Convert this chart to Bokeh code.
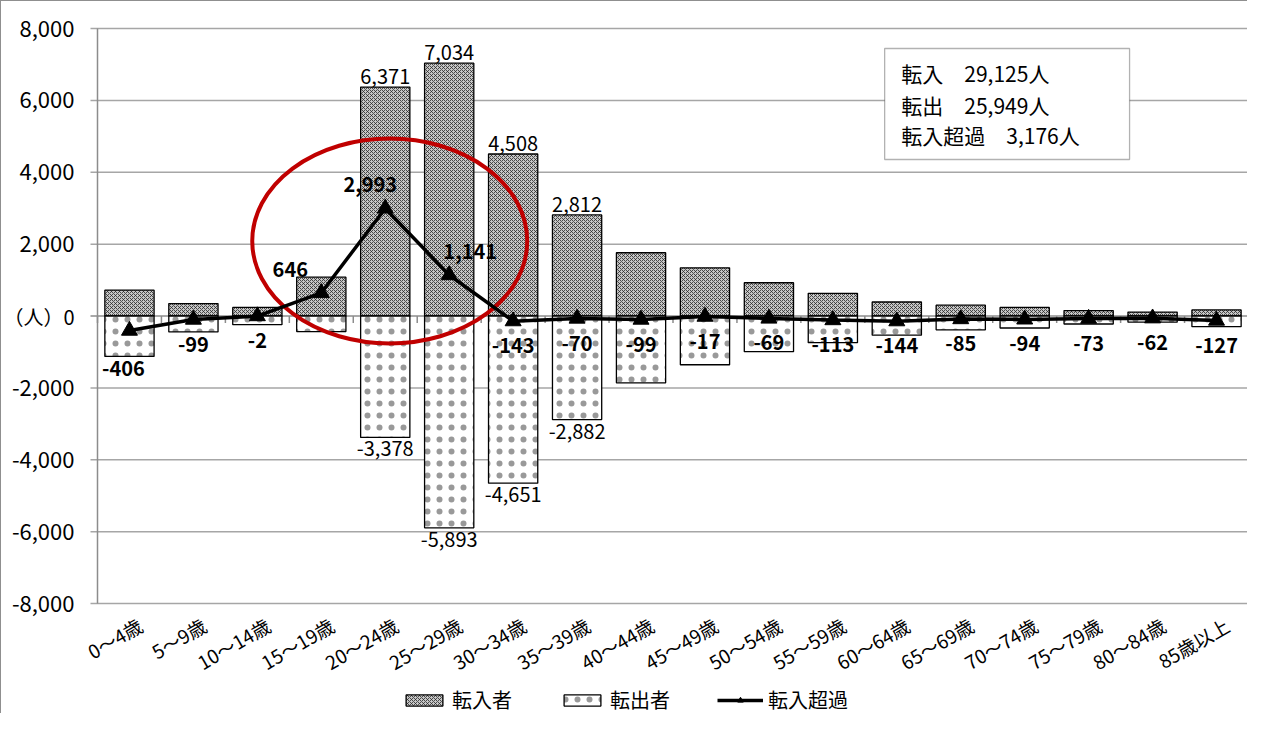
import math
from bokeh.plotting import figure
from bokeh.models import (ColumnDataSource, Range1d, Legend, LegendItem, BoxAnnotation, Label)
from bokeh.core.properties import value
from bokeh.embed import file_html
from bokeh.resources import INLINE

FONT = "Noto Sans CJK JP"

# ---------------- data ----------------
categories = ["0～4歳", "5～9歳", "10～14歳", "15～19歳", "20～24歳", "25～29歳",
              "30～34歳", "35～39歳", "40～44歳", "45～49歳", "50～54歳", "55～59歳",
              "60～64歳", "65～69歳", "70～74歳", "75～79歳", "80～84歳", "85歳以上"]
in_movers = [720, 345, 240, 1080, 6371, 7034, 4508, 2812, 1760, 1340, 925, 630,
             390, 300, 240, 150, 110, 170]
out_movers = [1126, 444, 242, 434, 3378, 5893, 4651, 2882, 1859, 1357, 994, 743,
              534, 385, 334, 223, 172, 297]
net_movers = [-406, -99, -2, 646, 2993, 1141, -143, -70, -99, -17, -69, -113,
              -144, -85, -94, -73, -62, -127]
y_ticks = [-8000, -6000, -4000, -2000, 0, 2000, 4000, 6000, 8000]
y_zero_label = "（人）0"
summary_lines = ["転入　29,125人", "転出　25,949人", "転入超過　3,176人"]
legend_labels = ["転入者", "転出者", "転入超過"]

# label nudges (style only, pixels)
net_dx = [-6, 0, 0, -31, -15, 21, 0, 0, 0, 0, 0, 0, 0, 0, 0, 0, 0, 0]
net_dy = [13, 0, 0, 0, 0, 0, 0, 0, 0, 0, 0, 0, 0, 0, 0, 0, 0, 0]

GRID = "#a6a6a6"
AXIS = "#8c8c8c"

# ---------------- layout (pixels inside the figure) ----------------
FIG_W, FIG_H = 1247, 713
PLOT_L, PLOT_R = 96, FIG_W          # value axis x position and right end of plot area
PLOT_T, PLOT_B = 27, 602            # pixel rows of the top and bottom y tick
n = len(categories)
px_x = (PLOT_R - PLOT_L) / n
px_y = (PLOT_B - PLOT_T) / (y_ticks[-1] - y_ticks[0])
x_start = -PLOT_L / px_x
y_end = y_ticks[-1] + PLOT_T / px_y
y_start = y_ticks[0] - (FIG_H - PLOT_B) / px_y

p = figure(x_range=Range1d(x_start, n), y_range=Range1d(y_start, y_end),
           x_axis_location=None, y_axis_location=None,
           width=FIG_W, height=FIG_H, output_backend="svg", toolbar_location=None,
           min_border=0)
p.styles = {"border-left": "1px solid #8f8f8f", "border-top": "1px solid #8f8f8f"}
p.outline_line_color = None
p.grid.visible = False
p.background_fill_color = "white"

xs = [i + 0.5 for i in range(n)]
tick_x = 7 / px_x
tick_y = 7 / px_y

# gridlines (with outward tick stubs) except the zero line
grid_vals = [v for v in y_ticks if v != 0]
p.segment(x0=[-tick_x] * len(grid_vals), y0=grid_vals, x1=[n] * len(grid_vals), y1=grid_vals,
          line_color=GRID, line_width=1.5)
# value axis line
p.segment(x0=[0], y0=[y_ticks[0]], x1=[0], y1=[y_ticks[-1]], line_color=AXIS, line_width=1.5)
# zero (category) axis with boundary ticks
p.segment(x0=[-tick_x], y0=[0], x1=[n], y1=[0], line_color=AXIS, line_width=1.5)
bounds = list(range(n + 1))
p.segment(x0=bounds, y0=[0] * len(bounds), x1=bounds, y1=[-tick_y] * len(bounds),
          line_color=AXIS, line_width=1.5)

# y tick labels
num_ticks = [v for v in y_ticks if v != 0]
p.text(x=[0] * len(num_ticks), y=num_ticks, text=[f"{v:,}" for v in num_ticks], x_offset=-23,
       text_align="right", text_baseline="middle",
       text_font=value(FONT), text_font_size="22px", text_color="black")
p.text(x=[0], y=[0], text=[y_zero_label], x_offset=-23,
       text_align="right", text_baseline="middle",
       text_font=value(FONT), text_font_size="20px", text_color="black")

# category labels along the bottom (value -8000)
p.text(x=xs, y=[y_ticks[0]] * n, text=categories,
       angle=math.pi / 6, text_align="right", text_baseline="top", x_offset=4, y_offset=8,
       text_font=value(FONT), text_font_size="19px", text_color="black")

# bars
out_neg = [-v for v in out_movers]
r_in = p.vbar(x=xs, top=in_movers, bottom=0, width=0.77,
              fill_color="#c6c6c6", line_color="black", line_width=1.3,
              hatch_pattern="diagonal_cross", hatch_scale=4, hatch_weight=0.8,
              hatch_color="#2a2a2a")
r_out = p.vbar(x=xs, top=0, bottom=out_neg, width=0.77,
               fill_color="white", line_color="black", line_width=1.3,
               hatch_pattern="dot", hatch_scale=12, hatch_weight=0.2,
               hatch_color="#333333", hatch_alpha=0.5)

# red highlight ellipse
p.ellipse(x=[4.57], y=[2087], width=4.30, height=5700, fill_color=None,
          line_color="#c00000", line_width=4)

# net line
r_line = p.line(x=xs, y=net_movers, line_color="black", line_width=3.5)
r_mark = p.scatter(x=xs, y=net_movers, marker="triangle", size=16,
                   fill_color="black", line_color="black")

# bar labels
big_in = [(x, v) for x, v in zip(xs, in_movers) if v >= 2500]
p.text(x=[x for x, v in big_in], y=[v for x, v in big_in], text=[f"{v:,}" for x, v in big_in],
       text_align="center", text_baseline="bottom", y_offset=-3,
       text_font=value(FONT), text_font_size="20px", text_color="black")
big_out = [(x, v) for x, v in zip(xs, out_movers) if v >= 2500]
p.text(x=[x for x, v in big_out], y=[-v for x, v in big_out], text=[f"-{v:,}" for x, v in big_out],
       text_align="center", text_baseline="top", y_offset=4,
       text_font=value(FONT), text_font_size="20px", text_color="black")

# net labels
pos = ColumnDataSource(dict(
    x=[x for x, v in zip(xs, net_movers) if v > 0],
    y=[v for v in net_movers if v > 0],
    t=[f"{v:,}" for v in net_movers if v > 0],
    dx=[d for d, v in zip(net_dx, net_movers) if v > 0],
    dy=[-16 - d for d, v in zip(net_dy, net_movers) if v > 0],
))
neg = ColumnDataSource(dict(
    x=[x for x, v in zip(xs, net_movers) if v <= 0],
    y=[v for v in net_movers if v <= 0],
    t=[f"{v:,}" for v in net_movers if v <= 0],
    dx=[d for d, v in zip(net_dx, net_movers) if v <= 0],
    dy=[17 + d for d, v in zip(net_dy, net_movers) if v <= 0],
))
p.text(x="x", y="y", text="t", x_offset="dx", y_offset="dy", source=pos,
       text_align="center", text_baseline="bottom",
       text_font=value(FONT), text_font_size="20px", text_font_style="bold", text_color="black")
p.text(x="x", y="y", text="t", x_offset="dx", y_offset="dy", source=neg,
       text_align="center", text_baseline="top",
       text_font=value(FONT), text_font_size="20px", text_font_style="bold", text_color="black")

# summary box
box = BoxAnnotation(left=12.31, right=16.14, bottom=4355, top=7443,
                    fill_color="white", fill_alpha=1.0, line_color="black", line_width=1.3)
p.add_layout(box)
for line_text, yy in zip(summary_lines, [6748, 5885, 5023]):
    p.add_layout(Label(x=12.57, y=yy, text=line_text, text_baseline="middle", text_align="left",
                       text_font=FONT, text_font_size="21px", text_color="black"))

# legend
legend = Legend(items=[LegendItem(label=legend_labels[0], renderers=[r_in]),
                       LegendItem(label=legend_labels[1], renderers=[r_out]),
                       LegendItem(label=legend_labels[2], renderers=[r_line, r_mark])],
                orientation="horizontal", location=(400, 0),
                glyph_width=46, glyph_height=14, label_standoff=5, spacing=47,
                padding=0, margin=0, border_line_color=None, background_fill_alpha=0,
                label_text_font=FONT, label_text_font_size="20px", label_text_color="black")
p.add_layout(legend, "center")

open("out.html", "w").write(file_html(p, INLINE))
